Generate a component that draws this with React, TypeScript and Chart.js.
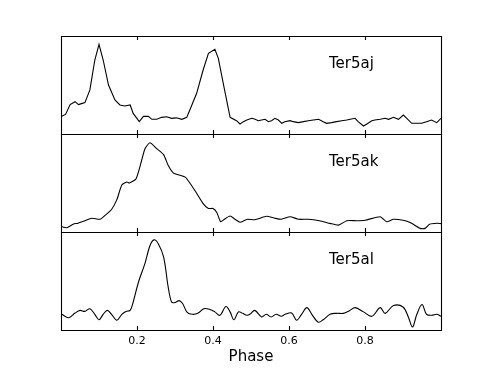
import React, { useEffect, useRef } from "react";
import { Chart, registerables } from "chart.js";

Chart.register(...registerables);

// ---------------- data ----------------
const tickPhases = [0.2, 0.4, 0.6, 0.8];
const axisTitle = "Phase";

const nameAj = "Ter5aj";
const phaseAj = [0.002, 0.012, 0.024, 0.037, 0.046, 0.054, 0.063, 0.076, 0.089, 0.1, 0.111, 0.125, 0.142, 0.155, 0.168, 0.182, 0.19, 0.206, 0.217, 0.23, 0.239, 0.252, 0.265, 0.278, 0.291, 0.303, 0.318, 0.331, 0.339, 0.357, 0.374, 0.388, 0.405, 0.414, 0.427, 0.445, 0.462, 0.471, 0.48, 0.489, 0.502, 0.511, 0.519, 0.528, 0.537, 0.546, 0.554, 0.563, 0.572, 0.581, 0.589, 0.603, 0.611, 0.625, 0.638, 0.651, 0.664, 0.678, 0.69, 0.699, 0.712, 0.725, 0.739, 0.752, 0.761, 0.774, 0.782, 0.796, 0.805, 0.818, 0.826, 0.84, 0.853, 0.862, 0.875, 0.888, 0.901, 0.91, 0.923, 0.936, 0.949, 0.962, 0.975, 0.989, 1.0];
const profileAj = [0.18, 0.2, 0.3, 0.33, 0.3, 0.31, 0.32, 0.45, 0.755, 0.915, 0.755, 0.5, 0.347, 0.296, 0.286, 0.296, 0.21, 0.126, 0.18, 0.18, 0.15, 0.15, 0.17, 0.176, 0.16, 0.165, 0.15, 0.17, 0.245, 0.415, 0.653, 0.823, 0.864, 0.772, 0.517, 0.17, 0.136, 0.102, 0.126, 0.143, 0.16, 0.15, 0.136, 0.143, 0.15, 0.126, 0.136, 0.16, 0.143, 0.109, 0.126, 0.136, 0.126, 0.116, 0.126, 0.136, 0.143, 0.15, 0.126, 0.109, 0.116, 0.126, 0.136, 0.143, 0.15, 0.16, 0.126, 0.082, 0.102, 0.136, 0.143, 0.15, 0.16, 0.15, 0.17, 0.15, 0.194, 0.16, 0.109, 0.109, 0.109, 0.126, 0.143, 0.116, 0.16];

const nameAk = "Ter5ak";
const phaseAk = [0.002, 0.015, 0.032, 0.045, 0.063, 0.081, 0.103, 0.116, 0.133, 0.147, 0.16, 0.173, 0.18, 0.197, 0.208, 0.221, 0.234, 0.252, 0.27, 0.282, 0.296, 0.313, 0.327, 0.339, 0.357, 0.374, 0.388, 0.4, 0.41, 0.42, 0.43, 0.445, 0.458, 0.471, 0.49, 0.51, 0.541, 0.563, 0.58, 0.603, 0.625, 0.65, 0.68, 0.708, 0.73, 0.752, 0.778, 0.8, 0.84, 0.857, 0.875, 0.9, 0.92, 0.945, 0.958, 0.97, 0.99, 1.0];
const profileAk = [0.054, 0.044, 0.08, 0.09, 0.115, 0.14, 0.13, 0.17, 0.23, 0.33, 0.48, 0.51, 0.5, 0.54, 0.67, 0.85, 0.91, 0.85, 0.79, 0.68, 0.6, 0.58, 0.56, 0.5, 0.395, 0.29, 0.24, 0.24, 0.2, 0.105, 0.13, 0.163, 0.13, 0.1, 0.13, 0.125, 0.16, 0.14, 0.13, 0.156, 0.13, 0.13, 0.115, 0.088, 0.07, 0.115, 0.115, 0.12, 0.156, 0.105, 0.13, 0.12, 0.095, 0.037, 0.037, 0.08, 0.09, 0.085];

const nameAl = "Ter5al";
const phaseAl = [0.002, 0.02, 0.037, 0.05, 0.063, 0.076, 0.089, 0.1, 0.111, 0.122, 0.133, 0.147, 0.16, 0.171, 0.182, 0.19, 0.204, 0.221, 0.234, 0.245, 0.256, 0.27, 0.282, 0.291, 0.3, 0.311, 0.32, 0.332, 0.346, 0.36, 0.376, 0.392, 0.405, 0.418, 0.434, 0.445, 0.455, 0.467, 0.478, 0.489, 0.497, 0.51, 0.528, 0.54, 0.553, 0.566, 0.58, 0.59, 0.607, 0.62, 0.633, 0.647, 0.66, 0.677, 0.69, 0.708, 0.725, 0.743, 0.76, 0.774, 0.796, 0.818, 0.84, 0.853, 0.875, 0.9, 0.914, 0.925, 0.936, 0.95, 0.962, 0.976, 0.989, 1.0];
const profileAl = [0.16, 0.125, 0.173, 0.2, 0.19, 0.217, 0.16, 0.105, 0.16, 0.2, 0.16, 0.1, 0.16, 0.19, 0.2, 0.286, 0.49, 0.68, 0.86, 0.92, 0.88, 0.745, 0.44, 0.286, 0.28, 0.3, 0.27, 0.18, 0.16, 0.17, 0.217, 0.21, 0.185, 0.15, 0.24, 0.185, 0.105, 0.185, 0.17, 0.15, 0.16, 0.2, 0.133, 0.16, 0.133, 0.16, 0.14, 0.16, 0.173, 0.1, 0.16, 0.228, 0.16, 0.08, 0.105, 0.16, 0.17, 0.17, 0.2, 0.228, 0.185, 0.14, 0.228, 0.17, 0.25, 0.235, 0.133, 0.03, 0.155, 0.26, 0.16, 0.15, 0.16, 0.14];

// ---------------- layout ----------------
const W = 491;
const H = 368;
const PLOT_LEFT = 61;
const PLOT_RIGHT = 441;
const PLOT_TOP = 36;
const PANEL_H = 98;
const PAD = 3;
const AXIS_H = 38;
const FONT = "'DejaVu Sans', sans-serif";

const framePlugin = {
  id: "frame",
  afterDraw(chart: any, _args: any, opts: any) {
    const { ctx, chartArea } = chart;
    const { left, right, top, bottom } = chartArea;
    const xs = chart.scales.x;
    ctx.save();
    ctx.strokeStyle = "#000";
    ctx.lineWidth = 1.1;
    ctx.beginPath();
    ctx.rect(left + 0.5, top + 0.5, right - left, bottom - top);
    ctx.stroke();
    ctx.beginPath();
    for (const t of tickPhases) {
      const px = Math.round(xs.getPixelForValue(t)) + 0.5;
      ctx.moveTo(px, top);
      ctx.lineTo(px, top + 4);
      ctx.moveTo(px, bottom);
      ctx.lineTo(px, bottom - 4);
    }
    ctx.stroke();
    ctx.fillStyle = "#000";
    ctx.font = `15px ${FONT}`;
    ctx.textBaseline = "alphabetic";
    ctx.textAlign = "left";
    ctx.fillText(opts.label, 329, top + 32);
    ctx.restore();
  },
};

function Panel(props: { name: string; phase: number[]; profile: number[]; index: number; showAxis: boolean; smooth: number }) {
  const ref = useRef<HTMLCanvasElement | null>(null);
  const { name, phase, profile, index, showAxis, smooth } = props;
  const top = PLOT_TOP + index * PANEL_H - PAD;
  const height = showAxis ? H - top : PANEL_H + 2 * PAD;

  useEffect(() => {
    if (!ref.current) return;
    const chart = new Chart(ref.current, {
      type: "line",
      data: {
        datasets: [
          {
            data: phase.map((p, i) => ({ x: p, y: profile[i] })),
            borderColor: "#000",
            borderWidth: 1.1,
            pointRadius: 0,
            tension: smooth,
            cubicInterpolationMode: "default",
            fill: false,
          },
        ],
      },
      options: {
        animation: false,
        responsive: false,
        maintainAspectRatio: false,
        devicePixelRatio: 1,
        layout: {
          padding: { left: PLOT_LEFT, right: W - PLOT_RIGHT, top: PAD, bottom: showAxis ? 0 : PAD },
        },
        plugins: {
          legend: { display: false },
          tooltip: { enabled: false },
          frame: { label: name },
        } as any,
        scales: {
          x: {
            type: "linear",
            min: 0,
            max: 1,
            display: showAxis,
            grid: { display: false, drawTicks: false },
            border: { display: false },
            afterBuildTicks: (s: any) => {
              s.ticks = tickPhases.map((v) => ({ value: v }));
            },
            afterFit: (s: any) => {
              s.height = showAxis ? AXIS_H : 0;
            },
            ticks: {
              autoSkip: false,
              maxRotation: 0,
              padding: 5,
              color: "#000",
              font: { family: FONT, size: 11 },
              callback: (v: any) => Number(v).toFixed(1),
            },
            title: {
              display: true,
              text: axisTitle,
              color: "#000",
              font: { family: FONT, size: 15 },
              padding: { top: 0, bottom: 2 },
            },
          },
          y: { display: false, min: 0, max: 1 },
        },
      },
      plugins: [framePlugin],
    } as any);
    return () => chart.destroy();
  }, []);

  return (
    <canvas
      ref={ref}
      width={W}
      height={height}
      style={{ position: "absolute", left: 0, top, width: W, height }}
    />
  );
}

export default function App() {
  return (
    <div style={{ position: "fixed", left: 0, top: 0, width: W, height: H, background: "#fff" }}>
      <Panel name={nameAj} phase={phaseAj} profile={profileAj} index={0} showAxis={false} smooth={0} />
      <Panel name={nameAk} phase={phaseAk} profile={profileAk} index={1} showAxis={false} smooth={0.2} />
      <Panel name={nameAl} phase={phaseAl} profile={profileAl} index={2} showAxis={true} smooth={0.35} />
    </div>
  );
}
